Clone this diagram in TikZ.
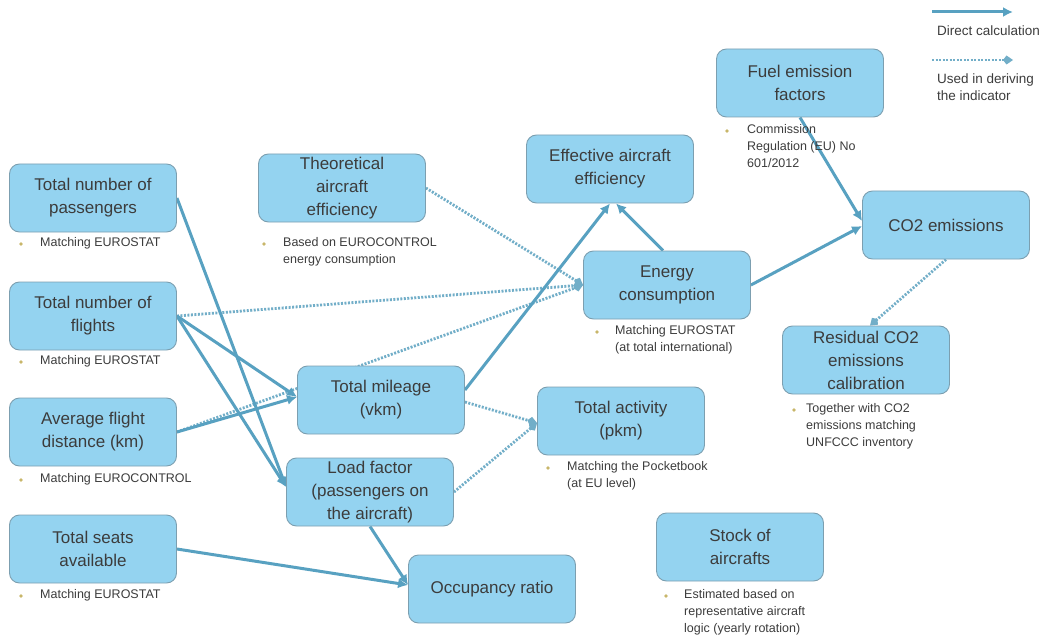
\documentclass[tikz,border=0pt]{standalone}
\usepackage{fontspec}
\setmainfont{Liberation Sans}
\usetikzlibrary{arrows.meta,calc}
\pgfdeclarelayer{bg}
\pgfsetlayers{bg,main}
\definecolor{boxfill}{HTML}{94D3F0}
\definecolor{boxline}{HTML}{7C9FB0}
\definecolor{txt}{HTML}{3C3C3C}
\definecolor{solidc}{HTML}{58A1C1}
\definecolor{dotc}{HTML}{72AEC8}
\definecolor{bul}{HTML}{C8B66A}
\begin{document}
\begin{tikzpicture}[x=1pt,y=-1pt,
  box/.style={draw=boxline, line width=0.9pt, fill=boxfill, rounded corners=10pt,
    minimum width=167pt, minimum height=68pt, align=center, text=txt,
    font=\fontsize{17}{23}\selectfont, inner sep=0pt},
  note/.style={anchor=north west, align=left, text=txt,
    font=\fontsize{12.5}{17}\selectfont, inner sep=0pt},
  legtext/.style={anchor=north west, align=left, text=txt,
    font=\fontsize{13.5}{17}\selectfont, inner sep=0pt},
  direct/.style={draw=solidc, line width=3pt, -{Latex[length=10pt,width=10pt]}},
  derived/.style={draw=dotc, line width=2.8pt, dash pattern=on 2pt off 1.5pt,
    -{Kite[length=10pt,width=9pt,inset=3.5pt]}},
  bulletdot/.style={fill=bul}
]
\useasboundingbox (0,0) rectangle (1054,639);

% boxes
\node[box] (pass) at (93,198) {Total number of\\passengers};
\node[box] (flights) at (93,316) {Total number of\\flights};
\node[box] (avgdist) at (93,432) {Average flight\\distance (km)};
\node[box] (seats) at (93,549) {Total seats\\available};
\node[box] (theo) at (342,188) {Theoretical\\aircraft\\efficiency};
\node[box] (effective) at (610,169) {Effective aircraft\\efficiency};
\node[box] (energy) at (667,285) {Energy\\consumption};
\node[box] (mileage) at (381,400) {Total mileage\\(vkm)};
\node[box] (load) at (370,492) {Load factor\\(passengers on\\the aircraft)};
\node[box] (occ) at (492,589) {Occupancy ratio};
\node[box] (activity) at (621,421) {Total activity\\(pkm)};
\node[box] (fuel) at (800,83) {Fuel emission\\factors};
\node[box] (co2) at (946,225) {CO2 emissions};
\node[box] (residual) at (866,360) {Residual CO2\\emissions\\calibration};
\node[box] (stock) at (740,547) {Stock of\\aircrafts};

% notes
\fill[bulletdot] (21,244) circle (1.9pt);
\node[note] (n1) at (40,237) {Matching EUROSTAT};
\fill[bulletdot] (21,362) circle (1.9pt);
\node[note] (n2) at (40,355) {Matching EUROSTAT};
\fill[bulletdot] (21,480) circle (1.9pt);
\node[note] (n3) at (40,473) {Matching EUROCONTROL};
\fill[bulletdot] (21,596) circle (1.9pt);
\node[note] (n4) at (40,589) {Matching EUROSTAT};
\fill[bulletdot] (264,244) circle (1.9pt);
\node[note] (n5) at (283,237) {Based on EUROCONTROL\\energy consumption};
\fill[bulletdot] (597,332) circle (1.9pt);
\node[note] (n6) at (615,325) {Matching EUROSTAT\\(at total international)};
\fill[bulletdot] (548,468) circle (1.9pt);
\node[note] (n7) at (567,461) {Matching the Pocketbook\\(at EU level)};
\fill[bulletdot] (727,131) circle (1.9pt);
\node[note] (n8) at (747,124) {Commission\\Regulation (EU) No\\601/2012};
\fill[bulletdot] (794,410) circle (1.9pt);
\node[note] (n9) at (806,403) {Together with CO2\\emissions matching\\UNFCCC inventory};
\fill[bulletdot] (666,596) circle (1.9pt);
\node[note] (n10) at (684,589) {Estimated based on\\representative aircraft\\logic (yearly rotation)};

% legend
\coordinate (la) at (932,12);
\coordinate (lb) at (1013,12);
\coordinate (lc) at (932,60);
\coordinate (ld) at (1013,60);
\draw[direct] (la) -- (lb);
\draw[derived] (lc) -- (ld);
\node[legtext] (lt1) at (937,26) {Direct calculation};
\node[legtext] (lt2) at (937,74) {Used in deriving\\the indicator};

% connectors
\begin{pgfonlayer}{bg}
\draw[derived] (theo.east) -- (energy.west);
\draw[derived] (flights.east) -- (energy.west);
\draw[derived] (avgdist.east) -- (energy.west);
\draw[derived] ([yshift=-2pt]mileage.east) -- ([yshift=-2pt]activity.west);
\draw[derived] (load.east) -- ([yshift=-2pt]activity.west);
\draw[derived] (co2.south) -- ([xshift=4pt]residual.north);

\draw[direct] (pass.east) -- ([yshift=5pt]load.west);
\draw[direct] (flights.east) -- ([yshift=5pt]load.west);
\draw[direct] (flights.east) -- ([yshift=3pt]mileage.west);
\draw[direct] (avgdist.east) -- ([yshift=3pt]mileage.west);
\draw[direct] ([yshift=10pt]mileage.east) -- (effective.south);
\draw[direct] ([xshift=-4pt]energy.north) -- ([xshift=6pt]effective.south);
\draw[direct] (energy.east) -- ([yshift=-1pt]co2.west);
\draw[direct] (fuel.south) -- ([yshift=4pt]co2.west);
\draw[direct] (load.south) -- ([yshift=4pt]occ.west);
\draw[direct] (seats.east) -- ([yshift=4pt]occ.west);
\end{pgfonlayer}
\end{tikzpicture}
\end{document}
